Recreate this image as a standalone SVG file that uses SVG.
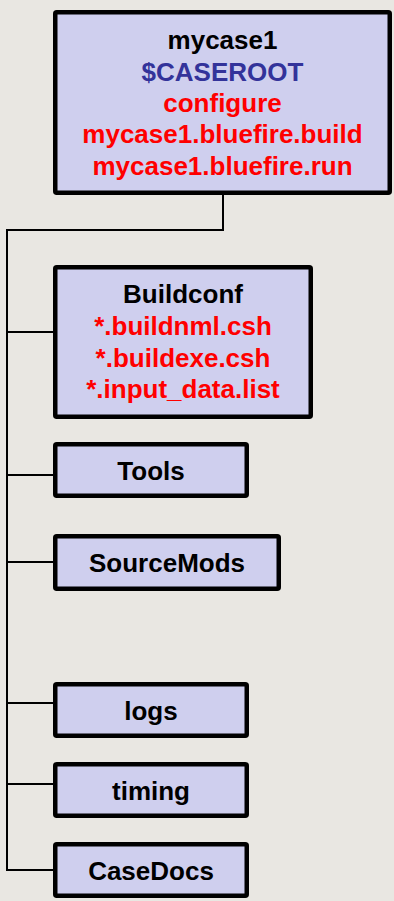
<svg xmlns="http://www.w3.org/2000/svg" width="394" height="901" viewBox="0 0 394 901">
<style>
.box{fill:#CFCFEE;stroke:#000;stroke-width:4.5}
.t{font-family:"Liberation Sans",Arial,sans-serif;font-weight:bold;font-size:26px;text-anchor:middle}
.k{fill:#000}.b{fill:#33339A}.r{fill:#FF0000}
.c{fill:none;stroke:#000;stroke-width:2}
</style>
<rect width="394" height="901" fill="#E9E7E2"/>
<g id="connectors">
<path class="c" d="M223 195V230H7V870H53"/>
<path class="c" d="M7 332H53M7 475H53M7 562H53M7 703H53M7 784H53"/>
</g>
<g id="mycase1">
<rect class="box" x="55.25" y="12.25" width="334.5" height="180.5" rx="1.5"/>
<text class="t k" x="222.5" y="49">mycase1</text>
<text class="t b" x="222.5" y="81">$CASEROOT</text>
<text class="t r" x="222.5" y="112">configure</text>
<text class="t r" x="222.5" y="143">mycase1.bluefire.build</text>
<text class="t r" x="222.5" y="175">mycase1.bluefire.run</text>
</g>
<g id="buildconf">
<rect class="box" x="55.25" y="267.25" width="255.5" height="149.5" rx="1.5"/>
<text class="t k" x="183" y="303">Buildconf</text>
<text class="t r" x="183" y="335">*.buildnml.csh</text>
<text class="t r" x="183" y="367">*.buildexe.csh</text>
<text class="t r" x="183" y="398">*.input_data.list</text>
</g>
<g id="tools">
<rect class="box" x="55.25" y="444.25" width="191.5" height="51.5" rx="1.5"/>
<text class="t k" x="151" y="480">Tools</text>
</g>
<g id="sourcemods">
<rect class="box" x="55.25" y="536.25" width="223.5" height="52.5" rx="1.5"/>
<text class="t k" x="167" y="572">SourceMods</text>
</g>
<g id="logs">
<rect class="box" x="55.25" y="684.25" width="191.5" height="51.5" rx="1.5"/>
<text class="t k" x="151" y="720">logs</text>
</g>
<g id="timing">
<rect class="box" x="55.25" y="764.25" width="191.5" height="51.5" rx="1.5"/>
<text class="t k" x="151" y="800">timing</text>
</g>
<g id="casedocs">
<rect class="box" x="55.25" y="844.25" width="191.5" height="51.5" rx="1.5"/>
<text class="t k" x="151" y="880">CaseDocs</text>
</g>
</svg>
